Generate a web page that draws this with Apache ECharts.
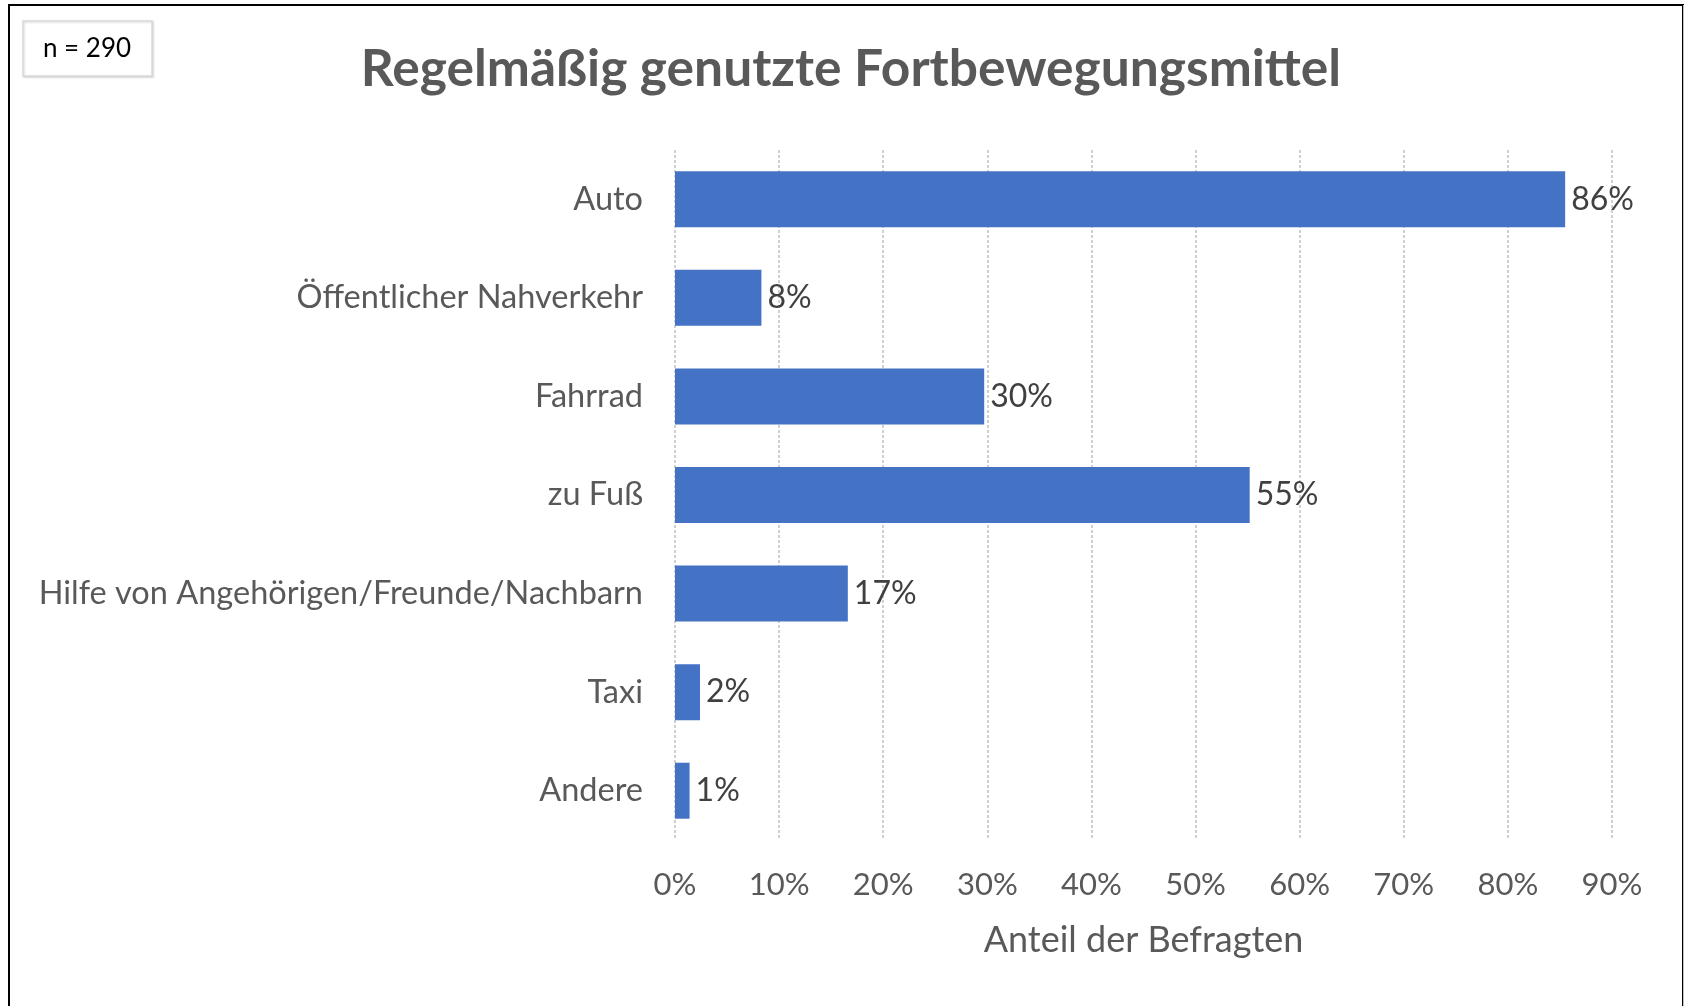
<!DOCTYPE html>
<html>
<head>
    <meta http-equiv="Content-Type" content="text/html; charset=utf-8" />
    <title>Regelmäßig genutzte Fortbewegungsmittel</title>
    <script type="text/javascript" src="https://cdn.jsdelivr.net/npm/echarts@6/dist/echarts.min.js"></script>
    <style>
        html, body {
            margin: 0;
            padding: 0;
            background: #fff;
        }

        #chart {
            width: 1685px;
            height: 1006px;
        }
    </style>
</head>
<body>
    <div id="chart"></div>

    <script>
        // Kategorien von oben nach unten
        var categories = ["Auto", "Öffentlicher Nahverkehr", "Fahrrad", "zu Fuß",
            "Hilfe von Angehörigen/Freunde/Nachbarn", "Taxi", "Andere"];
        // Anteil der Befragten in %
        var shares = [85.5, 8.3, 29.7, 55.2, 16.6, 2.4, 1.4];
        var xTicks = [0, 10, 20, 30, 40, 50, 60, 70, 80, 90];
        var sampleText = "n = 290";

        var fontName = "Lato, 'Open Sans', sans-serif";
        var myChart = echarts.init(document.getElementById("chart"));

        var option = {
            backgroundColor: "#fff",
            animation: false,
            textStyle: { fontFamily: fontName },
            title: {
                text: "Regelmäßig genutzte Fortbewegungsmittel",
                left: 846,
                textAlign: "center",
                top: 38,
                textStyle: {
                    fontFamily: fontName,
                    fontSize: 51.5,
                    fontWeight: "bold",
                    color: "#595959"
                }
            },
            grid: {
                left: 675,
                right: 73,
                top: 150,
                height: 690,
                containLabel: false
            },
            xAxis: {
                type: "value",
                min: xTicks[0],
                max: xTicks[xTicks.length - 1],
                interval: 10,
                name: "Anteil der Befragten",
                nameLocation: "middle",
                nameGap: 82,
                nameTextStyle: { fontSize: 36, color: "#595959" },
                axisLine: { show: false },
                axisTick: { show: false },
                axisLabel: {
                    fontSize: 31,
                    color: "#595959",
                    margin: 29,
                    formatter: "{value}%"
                },
                splitLine: {
                    show: true,
                    lineStyle: { color: "#d0d0d0", width: 2, type: [3, 2] }
                }
            },
            yAxis: {
                type: "category",
                inverse: true,
                data: categories,
                axisLine: { show: false },
                axisTick: { show: false },
                axisLabel: {
                    fontSize: 32.5,
                    color: "#595959",
                    margin: 32
                }
            },
            series: [
                {
                    name: "Anteil",
                    type: "bar",
                    data: shares,
                    barWidth: 56,
                    itemStyle: { color: "#4472c4" },
                    label: {
                        show: true,
                        position: "right",
                        distance: 6,
                        fontSize: 32,
                        color: "#404040",
                        formatter: function (p) {
                            return Math.round(p.value) + "%";
                        }
                    }
                }
            ],
            graphic: [
                {
                    type: "rect",
                    shape: { x: 9, y: 5, width: 1674, height: 1010 },
                    style: { fill: null, stroke: "#000", lineWidth: 2 },
                    silent: true
                },
                {
                    type: "rect",
                    shape: { x: 1683, y: 5, width: 1, height: 1006 },
                    style: { fill: "#bfbfbf" },
                    silent: true
                },
                {
                    type: "rect",
                    shape: { x: 23, y: 21, width: 129, height: 55 },
                    style: {
                        fill: "#fff",
                        stroke: "#d9d9d9",
                        lineWidth: 1.5,
                        shadowColor: "rgba(0,0,0,0.15)",
                        shadowBlur: 2,
                        shadowOffsetX: 1,
                        shadowOffsetY: 1
                    },
                    silent: true
                },
                {
                    type: "text",
                    x: 87,
                    y: 49,
                    style: {
                        text: sampleText,
                        fontFamily: fontName,
                        fontSize: 26,
                        fill: "#000",
                        align: "center",
                        verticalAlign: "middle"
                    },
                    silent: true
                }
            ]
        };
        myChart.setOption(option);
    </script>
</body>
</html>
